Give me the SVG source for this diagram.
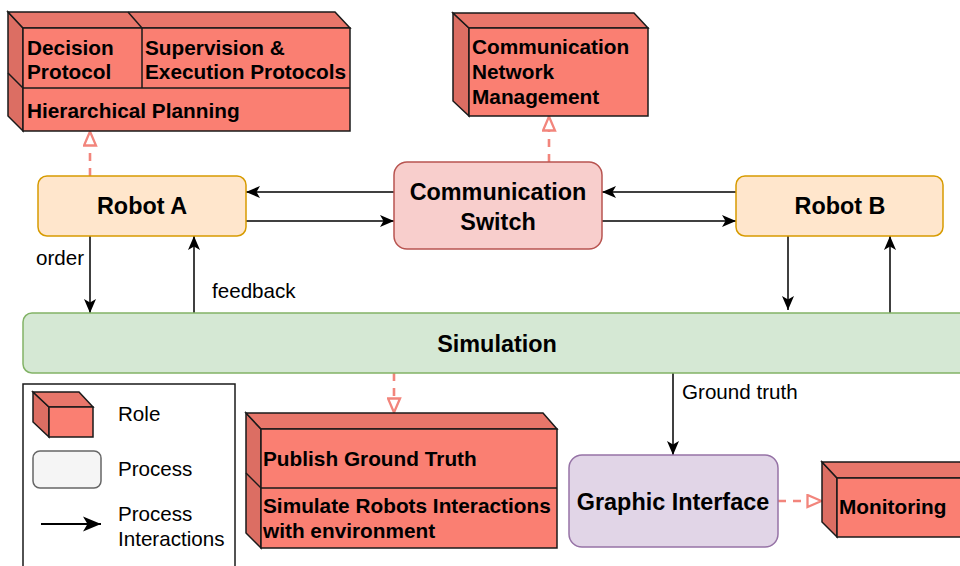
<svg xmlns="http://www.w3.org/2000/svg" width="960" height="566" viewBox="0 0 960 566">
<defs>
<style>
.front{fill:#FA7F72;stroke:#1a1a1a;stroke-width:1.5}
.top{fill:#E8766A;stroke:#1a1a1a;stroke-width:1.5}
.side{fill:#DC6E63;stroke:#1a1a1a;stroke-width:1.5}
.rt{font-family:"Liberation Sans",Arial,sans-serif;font-weight:bold;font-size:20.8px;fill:#000}
.pt{font-family:"Liberation Sans",Arial,sans-serif;font-weight:bold;font-size:23.4px;fill:#000;text-anchor:middle}
.lt{font-family:"Liberation Sans",Arial,sans-serif;font-size:20.6px;fill:#000}
.ar{fill:none;stroke:#000;stroke-width:1.5}
.da{fill:none;stroke:#F2857C;stroke-width:2.6;stroke-dasharray:8 7}
</style>
<marker id="arr" markerUnits="userSpaceOnUse" markerWidth="14" markerHeight="13" viewBox="0 0 14 13" refX="14" refY="6.5" orient="auto">
<path d="M0,0.5 L14,6.5 L0,12.5 L3.5,6.5 z" fill="#000"/>
</marker>
<marker id="arrL" markerUnits="userSpaceOnUse" markerWidth="18" markerHeight="16" viewBox="0 0 18 16" refX="18" refY="8" orient="auto">
<path d="M0,0.5 L18,8 L0,15.5 L4.5,8 z" fill="#000"/>
</marker>
<marker id="tri" markerUnits="userSpaceOnUse" markerWidth="17" markerHeight="15" viewBox="0 0 17 15" refX="16" refY="7.5" orient="auto">
<path d="M1.5,1.5 L15.5,7.5 L1.5,13.5 z" fill="#fff" stroke="#F2857C" stroke-width="2.3"/>
</marker>
</defs>

<g id="connectors">
<path class="ar" d="M394,192 H246" marker-end="url(#arr)"/>
<path class="ar" d="M246,221 H394" marker-end="url(#arr)"/>
<path class="ar" d="M736,192 H602" marker-end="url(#arr)"/>
<path class="ar" d="M602,221 H736" marker-end="url(#arr)"/>
<path class="ar" d="M90,236 V313" marker-end="url(#arr)"/>
<path class="ar" d="M194,313 V236" marker-end="url(#arr)"/>
<path class="ar" d="M788,236 V310" marker-end="url(#arr)"/>
<path class="ar" d="M890,313 V236" marker-end="url(#arr)"/>
<path class="ar" d="M673,373 V455" marker-end="url(#arr)"/>
<path class="da" d="M90,176 V131" marker-end="url(#tri)"/>
<path class="da" d="M549,162 V116" marker-end="url(#tri)"/>
<path class="da" d="M394,373 V413" marker-end="url(#tri)"/>
<path class="da" d="M778,501 H822" marker-end="url(#tri)"/>
<text class="lt" x="36" y="265">order</text>
<text class="lt" x="212" y="298">feedback</text>
<text class="lt" x="682" y="399">Ground truth</text>
</g>

<g id="robot-a">
<rect x="38" y="176" width="208" height="60" rx="9" fill="#FFE6CC" stroke="#D79B00" stroke-width="1.5"/>
<text class="pt" x="142" y="214">Robot A</text>
</g>

<g id="switch">
<rect x="394" y="162" width="208" height="87" rx="13" fill="#F8CECC" stroke="#B85450" stroke-width="1.5"/>
<text class="pt" x="498" y="200">Communication</text>
<text class="pt" x="498" y="230">Switch</text>
</g>

<g id="robot-b">
<rect x="736" y="176" width="207" height="60" rx="9" fill="#FFE6CC" stroke="#D79B00" stroke-width="1.5"/>
<text class="pt" x="840" y="214">Robot B</text>
</g>

<g id="simulation">
<rect x="23" y="313" width="960" height="60" rx="9" fill="#D5E8D4" stroke="#82B366" stroke-width="1.5"/>
<text class="pt" x="497" y="352">Simulation</text>
</g>

<g id="graphic-interface">
<rect x="569" y="455" width="209" height="92" rx="13" fill="#E1D5E7" stroke="#9673A6" stroke-width="1.5"/>
<text class="pt" x="673" y="510">Graphic Interface</text>
</g>

<g id="role-robot">
<polygon class="side" points="8,12 23,28 23,131 8,116"/>
<polygon class="top" points="8,12 335,12 350,28 23,28"/>
<rect class="front" x="23" y="28" width="327" height="103"/>
<line x1="128" y1="12" x2="142" y2="28" stroke="#1a1a1a" stroke-width="1.5"/>
<line x1="142" y1="28" x2="142" y2="88" stroke="#1a1a1a" stroke-width="1.5"/>
<line x1="23" y1="88" x2="350" y2="88" stroke="#1a1a1a" stroke-width="1.5"/>
<line x1="8" y1="73" x2="23" y2="88" stroke="#1a1a1a" stroke-width="1.5"/>
<text class="rt" x="27" y="55">Decision</text>
<text class="rt" x="27" y="79">Protocol</text>
<text class="rt" x="145" y="55">Supervision &amp;</text>
<text class="rt" x="145" y="79">Execution Protocols</text>
<text class="rt" x="27" y="118">Hierarchical Planning</text>
</g>

<g id="role-network">
<polygon class="side" points="453,13 469,28 469,116 453,101"/>
<polygon class="top" points="453,13 634,13 648,28 469,28"/>
<rect class="front" x="469" y="28" width="179" height="88"/>
<text class="rt" x="472" y="54">Communication</text>
<text class="rt" x="472" y="79">Network</text>
<text class="rt" x="472" y="104">Management</text>
</g>

<g id="role-simulation">
<polygon class="side" points="246,413 261,429 261,548 246,533"/>
<polygon class="top" points="246,413 543,413 557,429 261,429"/>
<rect class="front" x="261" y="429" width="296" height="119"/>
<line x1="261" y1="488" x2="557" y2="488" stroke="#1a1a1a" stroke-width="1.5"/>
<line x1="246" y1="473" x2="261" y2="488" stroke="#1a1a1a" stroke-width="1.5"/>
<text class="rt" x="263" y="466">Publish Ground Truth</text>
<text class="rt" x="263" y="513">Simulate Robots Interactions</text>
<text class="rt" x="263" y="538">with environment</text>
</g>

<g id="role-monitoring">
<polygon class="side" points="822,462 837,478 837,537 822,522"/>
<polygon class="top" points="822,462 960,462 975,478 837,478"/>
<rect class="front" x="837" y="478" width="140" height="59"/>
<text class="rt" x="839" y="514">Monitoring</text>
</g>

<g id="legend">
<rect x="23" y="384" width="212" height="200" fill="#fff" stroke="#1a1a1a" stroke-width="1.5"/>
<polygon class="side" points="33,392 49,407 49,437 33,422"/>
<polygon class="top" points="33,392 79,392 93,407 49,407"/>
<rect class="front" x="49" y="407" width="44" height="30"/>
<text class="lt" x="118" y="421">Role</text>
<rect x="33" y="451" width="68" height="37" rx="7" fill="#F5F5F5" stroke="#666" stroke-width="1.5"/>
<text class="lt" x="118" y="476">Process</text>
<path d="M41,524 H101" stroke="#000" stroke-width="2.2" marker-end="url(#arrL)"/>
<text class="lt" x="118" y="521">Process</text>
<text class="lt" x="118" y="546">Interactions</text>
</g>
</svg>
